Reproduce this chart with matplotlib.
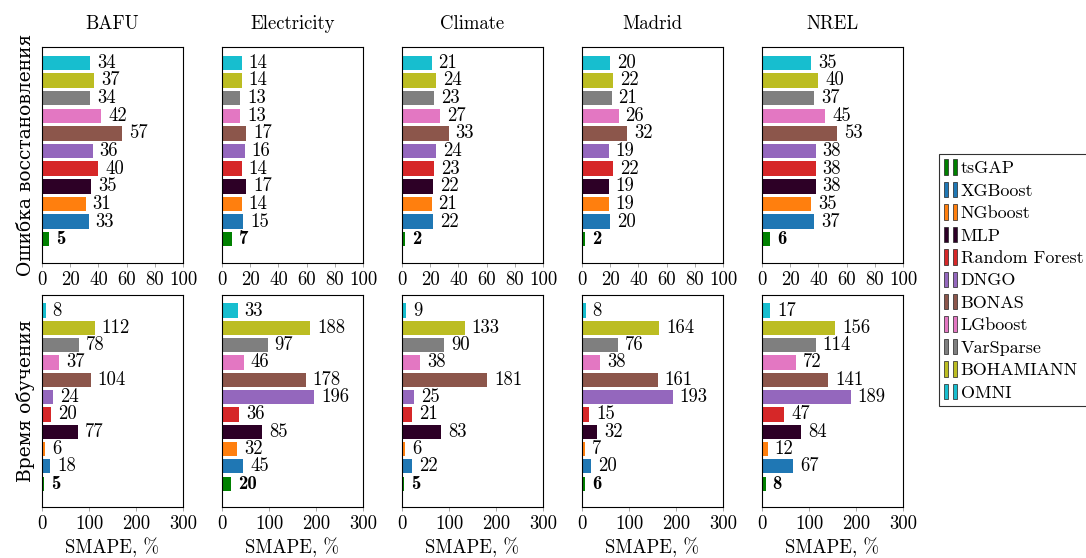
import matplotlib
matplotlib.use("Agg")
import matplotlib.pyplot as plt
from matplotlib.patches import Patch
from matplotlib.legend_handler import HandlerTuple

plt.rcParams['font.family'] = ['cmr10', 'DejaVu Serif']
plt.rcParams['axes.unicode_minus'] = False
plt.rcParams['font.size'] = 13.5

datasets = ['BAFU', 'Electricity', 'Climate', 'Madrid', 'NREL']
methods = ['tsGAP', 'XGBoost', 'NGboost', 'MLP', 'Random Forest', 'DNGO',
           'BONAS', 'LGboost', 'VarSparse', 'BOHAMIANN', 'OMNI']
colors = ['#008000', '#1f77b4', '#ff7f0e', '#2d0026', '#d62728', '#9467bd',
          '#8c564b', '#e377c2', '#7f7f7f', '#bcbd22', '#17becf']

# recovery error, one list per dataset (order follows `methods`)
err_bafu = [5, 33, 31, 35, 40, 36, 57, 42, 34, 37, 34]
err_elec = [7, 15, 14, 17, 14, 16, 17, 13, 13, 14, 14]
err_clim = [2, 22, 21, 22, 23, 24, 33, 27, 23, 24, 21]
err_madr = [2, 20, 19, 19, 22, 19, 32, 26, 21, 22, 20]
err_nrel = [6, 37, 35, 38, 38, 38, 53, 45, 37, 40, 35]

# training time
time_bafu = [5, 18, 6, 77, 20, 24, 104, 37, 78, 112, 8]
time_elec = [20, 45, 32, 85, 36, 196, 178, 46, 97, 188, 33]
time_clim = [5, 22, 6, 83, 21, 25, 181, 38, 90, 133, 9]
time_madr = [6, 20, 7, 32, 15, 193, 161, 38, 76, 164, 8]
time_nrel = [8, 67, 12, 84, 47, 189, 141, 72, 114, 156, 17]

rows = [
    ([err_bafu, err_elec, err_clim, err_madr, err_nrel], 100, [0, 20, 40, 60, 80, 100],
     'Ошибка восстановления'),
    ([time_bafu, time_elec, time_clim, time_madr, time_nrel], 300, [0, 100, 200, 300],
     'Время обучения'),
]

W, H = 1086, 558
fig = plt.figure(figsize=(W / 100, H / 100), dpi=100)

row_box = [(47, 263), (295, 507)]
y = list(range(len(methods)))

for r, (vals, xmax, ticks, ylab) in enumerate(rows):
    top, bot = row_box[r]
    for c, name in enumerate(datasets):
        x0 = 42 + c * 180
        ax = fig.add_axes([x0 / W, 1 - bot / H, 141 / W, (bot - top) / H])
        v = vals[c]
        ax.barh(y, v, height=0.82, color=colors)
        for i, val in enumerate(v):
            fam = 'cmb10' if i == 0 else ['cmr10', 'DejaVu Serif']
            ax.annotate(str(val), (val, i), xytext=(5, 0), textcoords='offset points',
                        va='center', ha='left', family=fam, fontsize=13.5)
        ax.set_xlim(0, xmax)
        ax.set_ylim(-1.35, 10.9)
        ax.set_xticks(ticks)
        ax.set_yticks([])
        ax.tick_params(axis='x', length=3, width=0.6, color='#999999', pad=3)
        for s in ax.spines.values():
            s.set_linewidth(0.8)
        if r == 0:
            ax.set_title(name, fontsize=13.5, pad=13)
        else:
            ax.set_xlabel('SMAPE, %', fontsize=13.5, labelpad=3)
        if c == 0:
            ax.set_ylabel(ylab, fontsize=13.5, family=['DejaVu Serif'], labelpad=5)

handles = [(Patch(facecolor=col, edgecolor='#222222', lw=0.5),
            Patch(facecolor=col, edgecolor='#222222', lw=0.5)) for col in colors]
leg = fig.legend(handles, methods, loc='center left', bbox_to_anchor=(939 / W, 1 - 280 / H),
                 handler_map={tuple: HandlerTuple(ndivide=None, pad=0.25)},
                 handlelength=0.7, handleheight=0.95, handletextpad=0.2,
                 labelspacing=0.3, borderpad=0.3, borderaxespad=0,
                 frameon=True, fancybox=False, edgecolor='black', fontsize=13)
leg.get_frame().set_linewidth(0.8)

fig.savefig('out.png', dpi=100)
